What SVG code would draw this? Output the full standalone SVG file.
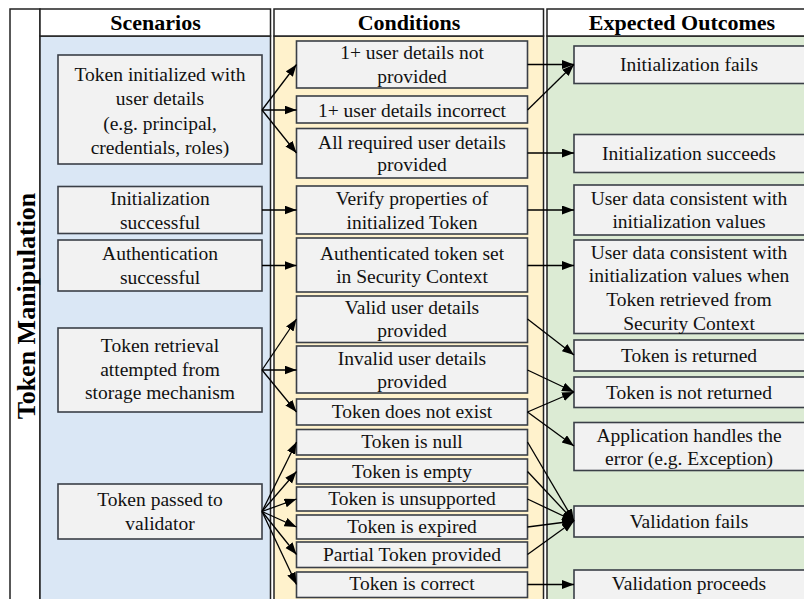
<svg xmlns="http://www.w3.org/2000/svg" width="804" height="599" viewBox="0 0 804 599">
<defs>
<marker id="ah" markerUnits="userSpaceOnUse" markerWidth="13" markerHeight="10" refX="12" refY="4.5" orient="auto">
<path d="M0,0 L12,4.5 L0,9 z" fill="#000"/>
</marker>
<style>
.col{stroke:#222;stroke-width:1.5}
.hd{font-family:"Liberation Serif",serif;font-weight:bold;font-size:22px;text-anchor:middle;fill:#000}
.bx{fill:#f2f2f2;stroke:#3a3f47;stroke-width:1.6}
.t{font-family:"Liberation Serif",serif;font-size:19.5px;text-anchor:middle;fill:#111}
.cn{fill:none;stroke:#000;stroke-width:1.3;marker-end:url(#ah)}
</style>
</defs>
<rect x="0" y="0" width="804" height="599" fill="#fff"/>
<g id="frame">
<rect class="col" x="10" y="9" width="30" height="600" fill="#fff"/>
<rect class="col" x="40" y="36" width="230.5" height="570" fill="#dae7f5"/>
<rect class="col" x="40" y="9" width="230.5" height="27" fill="#fff"/>
<rect class="col" x="274" y="36" width="269.5" height="570" fill="#fff2cc"/>
<rect class="col" x="274" y="9" width="269.5" height="27" fill="#fff"/>
<rect class="col" x="547" y="36" width="270" height="570" fill="#dcebd4"/>
<rect class="col" x="547" y="9" width="270" height="27" fill="#fff"/>
<text class="hd" x="155.5" y="30">Scenarios</text>
<text class="hd" x="409" y="30">Conditions</text>
<text class="hd" x="682" y="30">Expected Outcomes</text>
<text class="hd" style="font-size:26px" transform="translate(35,306) rotate(-90)">Token Manipulation</text>
</g>
<g id="s1"><rect class="bx" x="58" y="55" width="204" height="109"/><text class="t" x="160" y="81">Token initialized with</text><text class="t" x="160" y="105">user details</text><text class="t" x="160" y="129.5">(e.g. principal,</text><text class="t" x="160" y="154">credentials, roles)</text></g>
<g id="s2"><rect class="bx" x="58" y="186.5" width="204" height="47"/><text class="t" x="160" y="205">Initialization</text><text class="t" x="160" y="228.5">successful</text></g>
<g id="s3"><rect class="bx" x="58" y="240" width="204" height="51"/><text class="t" x="160" y="260">Authentication</text><text class="t" x="160" y="283.5">successful</text></g>
<g id="s4"><rect class="bx" x="58" y="328" width="204" height="84"/><text class="t" x="160" y="352">Token retrieval</text><text class="t" x="160" y="376">attempted from</text><text class="t" x="160" y="399">storage mechanism</text></g>
<g id="s5"><rect class="bx" x="58" y="484" width="204" height="55"/><text class="t" x="160" y="506">Token passed to</text><text class="t" x="160" y="530">validator</text></g>
<g id="c1"><rect class="bx" x="296.5" y="41" width="231" height="47"/><text class="t" x="412" y="59">1+ user details not</text><text class="t" x="412" y="83">provided</text></g>
<g id="c2"><rect class="bx" x="296.5" y="96" width="231" height="27"/><text class="t" x="412" y="117">1+ user details incorrect</text></g>
<g id="c3"><rect class="bx" x="296.5" y="128.5" width="231" height="49.5"/><text class="t" x="412" y="148.5">All required user details</text><text class="t" x="412" y="171">provided</text></g>
<g id="c4"><rect class="bx" x="296.5" y="186" width="231" height="48"/><text class="t" x="412" y="205">Verify properties of</text><text class="t" x="412" y="228.5">initialized Token</text></g>
<g id="c5"><rect class="bx" x="296.5" y="238" width="231" height="54"/><text class="t" x="412" y="260">Authenticated token set</text><text class="t" x="412" y="283">in Security Context</text></g>
<g id="c6"><rect class="bx" x="296.5" y="296" width="231" height="46.5"/><text class="t" x="412" y="314">Valid user details</text><text class="t" x="412" y="337">provided</text></g>
<g id="c7"><rect class="bx" x="296.5" y="346" width="231" height="47"/><text class="t" x="412" y="365">Invalid user details</text><text class="t" x="412" y="387.5">provided</text></g>
<g id="c8"><rect class="bx" x="296.5" y="399" width="231" height="26"/><text class="t" x="412" y="417.5">Token does not exist</text></g>
<g id="c9"><rect class="bx" x="296.5" y="429.5" width="231" height="25.5"/><text class="t" x="412" y="448">Token is null</text></g>
<g id="c10"><rect class="bx" x="296.5" y="459" width="231" height="25"/><text class="t" x="412" y="477.5">Token is empty</text></g>
<g id="c11"><rect class="bx" x="296.5" y="487" width="231" height="24"/><text class="t" x="412" y="505">Token is unsupported</text></g>
<g id="c12"><rect class="bx" x="296.5" y="515" width="231" height="24"/><text class="t" x="412" y="533">Token is expired</text></g>
<g id="c13"><rect class="bx" x="296.5" y="542" width="231" height="25.5"/><text class="t" x="412" y="560.5">Partial Token provided</text></g>
<g id="c14"><rect class="bx" x="296.5" y="572" width="231" height="25.5"/><text class="t" x="412" y="590">Token is correct</text></g>
<g id="o1"><rect class="bx" x="574" y="46" width="232" height="37.5"/><text class="t" x="689" y="71">Initialization fails</text></g>
<g id="o2"><rect class="bx" x="574" y="134.5" width="232" height="38"/><text class="t" x="689" y="160">Initialization succeeds</text></g>
<g id="o3"><rect class="bx" x="574" y="185" width="232" height="50"/><text class="t" x="689" y="205">User data consistent with</text><text class="t" x="689" y="228">initialization values</text></g>
<g id="o4"><rect class="bx" x="574" y="240" width="232" height="93.5"/><text class="t" x="689" y="258.5">User data consistent with</text><text class="t" x="689" y="282">initialization values when</text><text class="t" x="689" y="305.5">Token retrieved from</text><text class="t" x="689" y="330">Security Context</text></g>
<g id="o5"><rect class="bx" x="574" y="340" width="232" height="31"/><text class="t" x="689" y="361.5">Token is returned</text></g>
<g id="o6"><rect class="bx" x="574" y="377" width="232" height="30.5"/><text class="t" x="689" y="399">Token is not returned</text></g>
<g id="o7"><rect class="bx" x="574" y="422.5" width="232" height="48"/><text class="t" x="689" y="441.5">Application handles the</text><text class="t" x="689" y="464.5">error (e.g. Exception)</text></g>
<g id="o8"><rect class="bx" x="574" y="506" width="232" height="31"/><text class="t" x="689" y="527.5">Validation fails</text></g>
<g id="o9"><rect class="bx" x="574" y="570" width="232" height="40"/><text class="t" x="689" y="590">Validation proceeds</text></g>
<g id="connectors">
<path class="cn" d="M262,110 L296.5,64.5"/>
<path class="cn" d="M262,110 L296.5,110"/>
<path class="cn" d="M262,110 L296.5,153"/>
<path class="cn" d="M262,210 L296.5,210"/>
<path class="cn" d="M262,265.5 L296.5,265.5"/>
<path class="cn" d="M262,370 L296.5,319"/>
<path class="cn" d="M262,370 L296.5,370"/>
<path class="cn" d="M262,370 L296.5,412"/>
<path class="cn" d="M262,511.5 L296.5,442"/>
<path class="cn" d="M262,511.5 L296.5,471.5"/>
<path class="cn" d="M262,511.5 L296.5,499"/>
<path class="cn" d="M262,511.5 L296.5,527"/>
<path class="cn" d="M262,511.5 L296.5,554.5"/>
<path class="cn" d="M262,511.5 L296.5,584.5"/>
<path class="cn" d="M527.5,64.5 L574,64.5"/>
<path class="cn" d="M527.5,110 L574,64.5"/>
<path class="cn" d="M527.5,153 L574,153"/>
<path class="cn" d="M527.5,210 L574,210"/>
<path class="cn" d="M527.5,265.5 L574,265.5"/>
<path class="cn" d="M527.5,319 L574,355"/>
<path class="cn" d="M527.5,370 L574,392"/>
<path class="cn" d="M527.5,412 L574,392"/>
<path class="cn" d="M527.5,412 L574,446"/>
<path class="cn" d="M527.5,442 L574,521"/>
<path class="cn" d="M527.5,471.5 L574,521"/>
<path class="cn" d="M527.5,499 L574,521"/>
<path class="cn" d="M527.5,527 L574,521"/>
<path class="cn" d="M527.5,554.5 L574,521"/>
<path class="cn" d="M527.5,584.5 L574,584.5"/>
</g>
</svg>
